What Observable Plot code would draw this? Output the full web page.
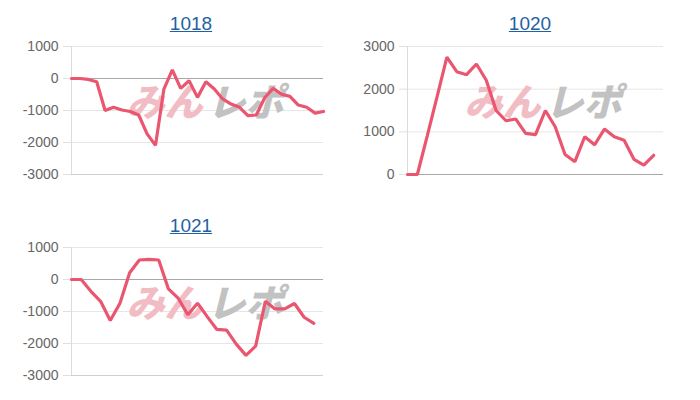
<!DOCTYPE html>
<html>
<head>
<meta charset="utf-8">
<script src="https://cdn.jsdelivr.net/npm/d3@7"></script>
<script src="https://cdn.jsdelivr.net/npm/@observablehq/plot@0.6"></script>
<style>
  html, body { margin: 0; padding: 0; background: #fff; }
  body { width: 700px; height: 400px; position: relative; overflow: hidden; font-family: "Liberation Sans", Arial, sans-serif; }
  .title { position: absolute; width: 200px; text-align: center; font-size: 19px; line-height: 22px; }
  .title a { color: #1f62a3; text-decoration: underline; }
  .panel { position: absolute; }
</style>
</head>
<body>
<div id="root"></div>
<script>
// Machine names (titles)
const names = ["1018", "1020", "1021"];

// Daily cumulative difference values
const values1018 = [0, 0, -30, -100, -1000, -900, -985, -1030, -1140, -1730, -2090, -330, 270, -310, -70, -590, -100, -330, -640, -800, -900, -1160, -1140, -600, -310, -490, -560, -830, -900, -1080, -1030];
const values1020 = [0, 0, 900, 1820, 2750, 2410, 2340, 2590, 2210, 1500, 1260, 1300, 965, 935, 1500, 1120, 470, 300, 885, 695, 1065, 885, 805, 355, 220, 450];
const values1021 = [0, 0, -370, -680, -1280, -740, 210, 610, 630, 610, -295, -580, -1100, -740, -1160, -1560, -1580, -2020, -2370, -2080, -680, -920, -920, -750, -1180, -1370];

// Number of day slots on each x axis
const slots = [31, 27, 27];

// Y tick labels
const ticksNeg = [-3000, -2000, -1000, 0, 1000];
const ticksPos = [0, 1000, 2000, 3000];

const series = [values1018, values1020, values1021];
const yTicks = [ticksNeg, ticksPos, ticksNeg];
const yDomains = [[-3000, 1000], [0, 3000], [-3000, 1000]];

// layout per panel
const layout = [
  {left: 0,   top: 36,  ml: 71, titleX: 191, titleY: 13},
  {left: 340, top: 36,  ml: 67, titleX: 530, titleY: 13},
  {left: 0,   top: 237, ml: 71, titleX: 191, titleY: 215}
];

const root = document.getElementById("root");

series.forEach((vals, k) => {
  const L = layout[k];
  const data = vals.map((v, i) => ({day: i + 1, value: v}));
  const t = document.createElement("div");
  t.className = "title";
  t.style.left = (L.titleX - 100) + "px";
  t.style.top = L.titleY + "px";
  t.innerHTML = `<a href="#">${names[k]}</a>`;
  root.appendChild(t);

  const chart = Plot.plot({
    width: 340,
    height: 150,
    marginLeft: L.ml,
    marginRight: 17,
    marginTop: 10,
    marginBottom: 12,
    style: {fontFamily: "'Liberation Sans', Arial, sans-serif", background: "transparent", overflow: "visible"},
    x: {domain: [1, slots[k]], axis: null},
    y: {domain: yDomains[k], ticks: yTicks[k], axis: null},
    marks: [
      Plot.gridY(yTicks[k], {stroke: "#e6e6e6", strokeOpacity: 1}),
      Plot.ruleX([1], {stroke: "#dcdcdc"}),
      Plot.ruleY([yDomains[k][0]], {stroke: "#d0d0d0"}),
      Plot.ruleY([0], {stroke: "#a8a8a8"}),
      Plot.axisY(yTicks[k], {
        label: null,
        tickSize: 8, tickPadding: 5, stroke: "#e0e0e0", fill: "#666",
        fontSize: 14, tickFormat: d => String(d)
      }),
      Plot.text([0], {frameAnchor: "middle", text: () => "みん", dx: -33, dy: -7,
        fill: "#f2bcc4", fontSize: 38, fontWeight: 900, fontStyle: "italic",
        fontFamily: "'Noto Sans CJK JP', sans-serif"}),
      Plot.text([0], {frameAnchor: "middle", text: () => "レポ", dx: 48, dy: -7,
        fill: "#c2c2c2", fontSize: 38, fontWeight: 900, fontStyle: "italic",
        fontFamily: "'Noto Sans CJK JP', sans-serif"}),
      Plot.line(data, {x: "day", y: "value", stroke: "#ea5670", strokeWidth: 3.2, strokeLinejoin: "miter"})
    ]
  });
  const wrap = document.createElement("div");
  wrap.className = "panel";
  wrap.style.left = L.left + "px";
  wrap.style.top = L.top + "px";
  wrap.appendChild(chart);
  root.appendChild(wrap);
});
</script>
</body>
</html>
